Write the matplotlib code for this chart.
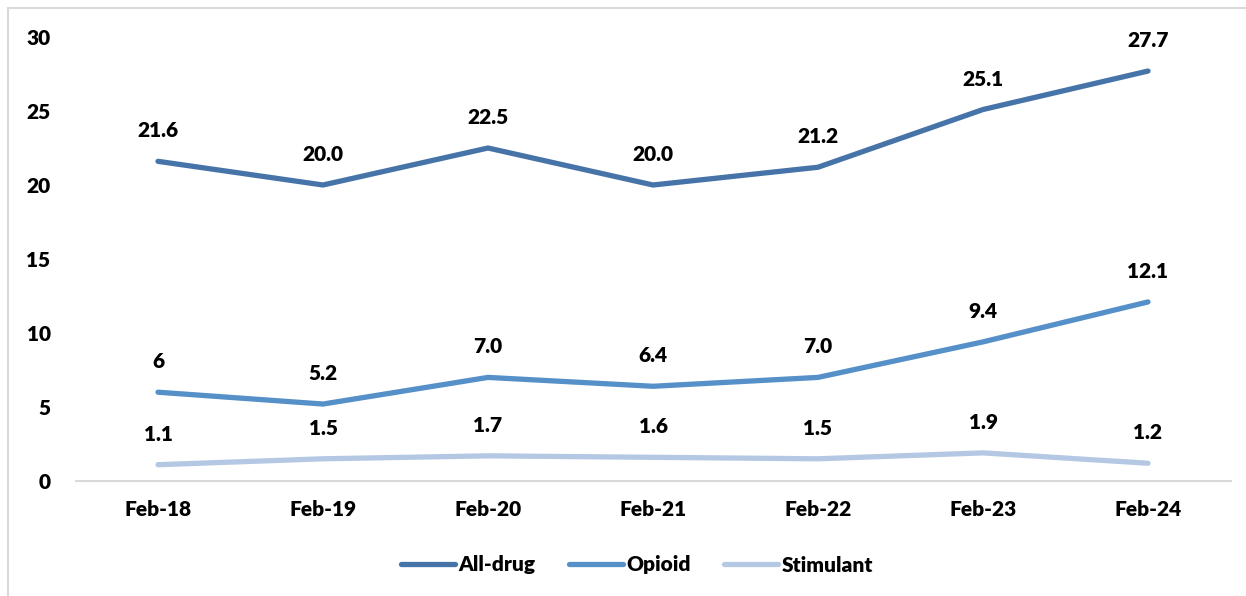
import matplotlib.pyplot as plt
from matplotlib.patches import Rectangle

months = ["Feb-18", "Feb-19", "Feb-20", "Feb-21", "Feb-22", "Feb-23", "Feb-24"]
all_drug = [21.6, 20.0, 22.5, 20.0, 21.2, 25.1, 27.7]
opioid = [6.0, 5.2, 7.0, 6.4, 7.0, 9.4, 12.1]
stimulant = [1.1, 1.5, 1.7, 1.6, 1.5, 1.9, 1.2]
opioid_labels = ["6", "5.2", "7.0", "6.4", "7.0", "9.4", "12.1"]

plt.rcParams['font.family'] = ['Lato', 'DejaVu Sans']
plt.rcParams['font.weight'] = 'heavy'

fig = plt.figure(figsize=(12.46, 5.96), dpi=100)
ax = fig.add_axes([75.5 / 1246, 1 - 481 / 596, (1230.5 - 75.5) / 1246, (481 - 37) / 596])

fig.patches.append(Rectangle((8 / 1246, -0.01), 1.0, 1 - 8 / 596 + 0.01, transform=fig.transFigure,
                             fill=False, edgecolor='#d9d9d9', linewidth=1.5))

x = list(range(len(months)))
series = [
    ("All-drug", all_drug, [f"{v:.1f}" for v in all_drug], "#4674a8"),
    ("Opioid", opioid, opioid_labels, "#5590c8"),
    ("Stimulant", stimulant, [f"{v:.1f}" for v in stimulant], "#b4c8e4"),
]
for name, vals, labels, color in series:
    ax.plot(x, vals, color=color, linewidth=3.8, solid_capstyle='round', label=name)
    for xi, v, lab in zip(x, vals, labels):
        ax.annotate(lab, (xi, v), xytext=(0, 21), textcoords='offset pixels',
                    ha='center', va='bottom', fontsize=15, fontweight='heavy')

ax.set_xlim(-0.5, 6.5)
ax.set_ylim(0, 30)
ax.set_yticks(range(0, 31, 5))
ax.set_xticks(x)
ax.set_xticklabels(months)
for s in ["top", "right", "left"]:
    ax.spines[s].set_visible(False)
ax.spines["bottom"].set_color('#d9d9d9')
ax.spines["bottom"].set_linewidth(1.5)
ax.tick_params(axis='both', length=0, labelsize=15)
ax.tick_params(axis='y', pad=18)
ax.tick_params(axis='x', pad=14)

ax.legend(loc='center', bbox_to_anchor=(637 / 1246, 1 - 565 / 596), bbox_transform=fig.transFigure,
          ncol=3, frameon=False, fontsize=15, handlelength=2.6, handletextpad=0.15, columnspacing=1.6)

fig.savefig("out.png", dpi=100)
